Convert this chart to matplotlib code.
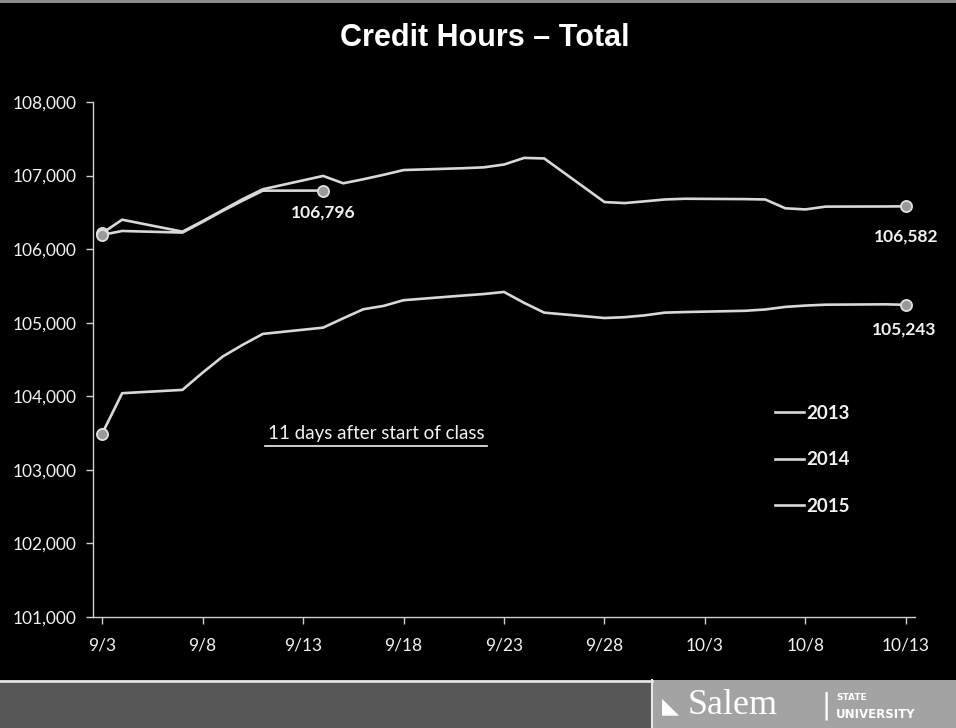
import matplotlib.pyplot as plt
from matplotlib.patches import Rectangle
from matplotlib.lines import Line2D

# day offsets from 9/3 (school days only)
days = [0, 1, 4, 5, 6, 7, 8, 11, 12, 13, 14, 15, 18, 19, 20, 21, 22,
        25, 26, 27, 28, 29, 32, 33, 34, 35, 36, 39, 40]
hours_2013 = [103489, 104042, 104087, 104320, 104540, 104700, 104848, 104933,
              105060, 105183, 105228, 105306, 105370, 105390, 105418, 105270,
              105137, 105064, 105075, 105100, 105137, 105145, 105162, 105180,
              105215, 105233, 105245, 105250, 105243]
hours_2014 = [106216, 106400, 106238, 106380, 106530, 106680, 106814, 106995,
              106895, 106950, 107010, 107075, 107100, 107112, 107150, 107240,
              107233, 106640, 106626, 106650, 106675, 106685, 106680, 106675,
              106555, 106540, 106578, 106580, 106582]
days_2015 = [0, 1, 4, 5, 6, 7, 8, 11]
hours_2015 = [106193, 106247, 106225, 106370, 106520, 106660, 106795, 106796]

tick_days = [0, 5, 10, 15, 20, 25, 30, 35, 40]
tick_labels = ["9/3", "9/8", "9/13", "9/18", "9/23", "9/28", "10/3", "10/8", "10/13"]
y_ticks = list(range(101000, 108001, 1000))

W, H = 956, 728
fig = plt.figure(figsize=(W / 100, H / 100), dpi=100, facecolor="black")

# axes placed in pixel terms
left, right, top, bottom = 93, 915, 102, 617
ax = fig.add_axes([left / W, 1 - bottom / H, (right - left) / W, (bottom - top) / H])
ax.set_facecolor("black")

fg = "#f2f2f2"
line_kw = dict(color="#d8d8d8", lw=1.9, solid_joinstyle="round")
mk_kw = dict(marker="o", ms=8, mfc="#9a9a9a", mec="#e0e0e0", mew=1.3, lw=0, zorder=5)

ax.plot(days, hours_2013, label="2013", **line_kw)
ax.plot(days, hours_2014, label="2014", **line_kw)
ax.plot(days_2015, hours_2015, label="2015", **line_kw)

# end point markers
for xs, ys in [(days, hours_2013), (days, hours_2014), (days_2015, hours_2015)]:
    ax.plot([xs[0], xs[-1]], [ys[0], ys[-1]], **mk_kw)

lab_kw = dict(textcoords="offset pixels", ha="center", va="center", color=fg,
              fontsize=12.5, fontweight="bold", family="Lato", annotation_clip=False)
ax.annotate("106,796", (days_2015[-1], hours_2015[-1]), xytext=(0, -22), **lab_kw)
ax.annotate("106,582", (days[-1], hours_2014[-1]), xytext=(0, -30), **lab_kw)
ax.annotate("105,243", (days[-1], hours_2013[-1]), xytext=(-2, -25), **lab_kw)

ax.set_xlim(-0.45, 40.45)
ax.set_ylim(101000, 108000)
ax.set_xticks(tick_days)
ax.set_xticklabels(tick_labels)
ax.set_yticks(y_ticks)
ax.set_yticklabels([f"{v:,}" for v in y_ticks])
for s in ["top", "right"]:
    ax.spines[s].set_visible(False)
for s in ["left", "bottom"]:
    ax.spines[s].set_color("#d0d0d0")
    ax.spines[s].set_linewidth(1.0)
ax.tick_params(colors="#d0d0d0", length=5, width=1, direction="out",
               labelcolor=fg, labelsize=12.5)
ax.tick_params(axis="x", pad=10)
ax.tick_params(axis="y", pad=7)
for t in ax.get_xticklabels() + ax.get_yticklabels():
    t.set_family("Lato")

leg = ax.legend(loc="upper left", bbox_to_anchor=(775 / W, 1 - 405 / H),
                bbox_transform=fig.transFigure, frameon=False, borderpad=0,
                borderaxespad=0, handlelength=1.55, handletextpad=0.12,
                labelspacing=1.56,
                prop={"family": "Lato", "weight": "bold", "size": 13.5})
for t in leg.get_texts():
    t.set_color(fg)

fig.text(376 / W, 1 - 433 / H, "11 days after start of class", ha="center",
         va="center", color=fg, fontsize=13.5, family="Lato")
fig.add_artist(Line2D([265 / W, 487 / W], [1 - 446 / H, 1 - 446 / H], color=fg, lw=1.2))

fig.text(485 / W, 1 - 38 / H, "Credit Hours \u2013 Total", ha="center", va="center",
         color="white", fontsize=22, fontweight="bold", family="Liberation Sans")

# scan edge at the very top
fig.add_artist(Rectangle((0, 1 - 3 / H), 1, 3 / H, transform=fig.transFigure,
                         color="#8a8a8a", lw=0))

# footer band with logo
fig.add_artist(Line2D([0, 652 / W], [1 - 681 / H, 1 - 681 / H], color="#e6e6e6", lw=2))
fig.add_artist(Rectangle((0, 0), 652 / W, 45 / H, transform=fig.transFigure,
                         color="#575757", lw=0))
fig.add_artist(Rectangle((652 / W, 0), 1 - 652 / W, 48 / H, transform=fig.transFigure,
                         color="#a3a3a3", lw=0))
fig.add_artist(Line2D([652 / W, 652 / W], [0, 48 / H], color="#e6e6e6", lw=1.5))
fig.text(688 / W, 1 - 706 / H, "Salem", ha="left", va="center", color="white",
         fontsize=26, family="Liberation Serif")
fig.text(670 / W, 1 - 706 / H, "\u25E3", ha="center", va="center", color="white",
         fontsize=16, family="DejaVu Sans")
fig.text(826 / W, 1 - 706 / H, "|", ha="center", va="center", color="white",
         fontsize=20, family="DejaVu Sans")
fig.text(836 / W, 1 - 697 / H, "STATE", ha="left", va="center", color="white",
         fontsize=6.5, fontweight="bold", family="DejaVu Sans")
fig.text(836 / W, 1 - 714 / H, "UNIVERSITY", ha="left", va="center", color="white",
         fontsize=8.5, fontweight="bold", family="DejaVu Sans")

fig.savefig("out.png", dpi=100, facecolor="black")
